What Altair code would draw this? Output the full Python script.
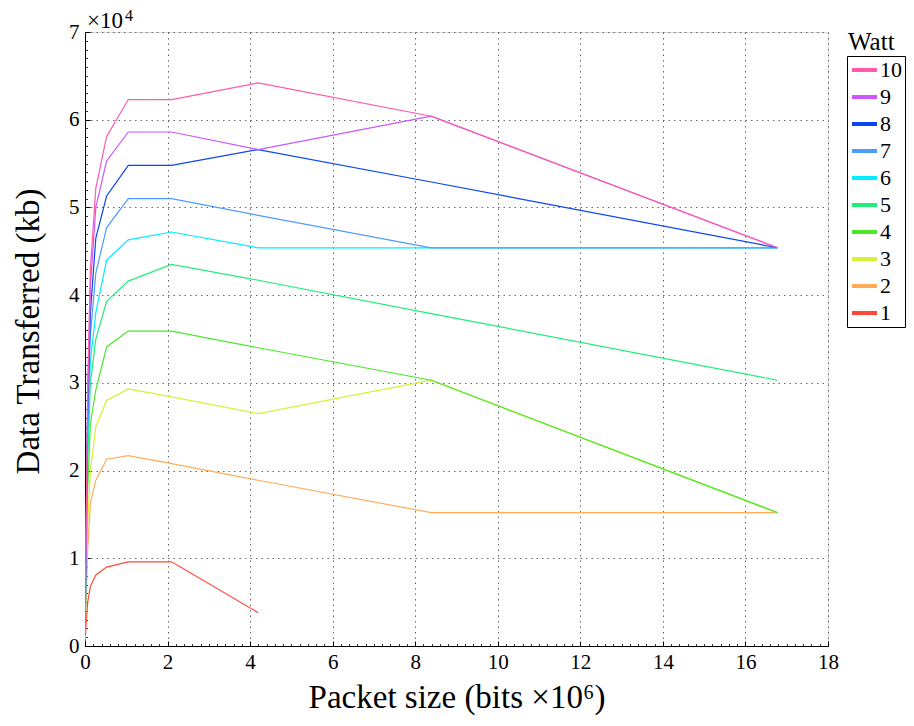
import altair as alt
import pandas as pd

# Packet size in bits x 1e6
packet_size = [0.0041, 0.0164, 0.0655, 0.131, 0.262, 0.524, 1.049, 2.097, 4.194, 8.389, 16.777]

# Data transferred (kb) for each Watt level
watt_1 = [500, 1800, 5000, 6800, 8100, 9000, 9600, 9600, 3800, None, None]
watt_2 = [800, 4000, 11000, 16300, 18900, 21300, 21700, 20800, 18900, 15200, 15200]
watt_3 = [900, 5000, 14000, 20000, 25000, 28000, 29300, 28400, 26500, 30300, 15200]
watt_4 = [1000, 6000, 18000, 25400, 29200, 34100, 35900, 35900, 34000, 30300, 15200]
watt_5 = [1100, 7000, 21000, 30000, 35000, 39300, 41600, 43500, 41700, 37900, 30300]
watt_6 = [1200, 7500, 24000, 32500, 38000, 44000, 46300, 47200, 45400, 45400, 45400]
watt_7 = [1300, 8000, 26000, 35500, 42500, 47700, 51000, 51000, 49100, 45400, 45400]
watt_8 = [1300, 8200, 27000, 38000, 46500, 51300, 54800, 54800, 56600, 52900, 45400]
watt_9 = [1400, 8500, 28000, 41000, 50000, 55300, 58600, 58600, 56600, 60400, 45400]
watt_10 = [1500, 9000, 30000, 43000, 52200, 58100, 62300, 62300, 64200, 60400, 45400]

series = [watt_1, watt_2, watt_3, watt_4, watt_5, watt_6, watt_7, watt_8, watt_9, watt_10]
watt_labels = ["1", "2", "3", "4", "5", "6", "7", "8", "9", "10"]
watt_colors = ["#ff4a3a", "#ffab5a", "#d9f035", "#4aea2a", "#22ee77",
               "#00eeff", "#4d9cff", "#0a46f0", "#cc55ff", "#ff5aab"]

x_ticks = [0, 2, 4, 6, 8, 10, 12, 14, 16, 18]
y_ticks = [0, 10000, 20000, 30000, 40000, 50000, 60000, 70000]
x_minor = [round(i * 0.2, 1) for i in range(0, 91)]
y_minor = [i * 1000 for i in range(0, 71)]

rows = []
for lab, vals in zip(watt_labels, series):
    for i, (xv, yv) in enumerate(zip(packet_size, vals)):
        if yv is not None:
            rows.append({"size": xv, "kb": yv, "watt": lab, "idx": i})
df = pd.DataFrame(rows)

FONT = "Liberation Serif, DejaVu Serif, serif"
W, H = 743, 614

xscale = alt.Scale(domain=[0, 18], nice=False, zero=False)
yscale = alt.Scale(domain=[0, 70000], nice=False, zero=False)

legend_domain = list(reversed(watt_labels))
legend_range = list(reversed(watt_colors))

lines = alt.Chart(df).mark_line(strokeWidth=1.2, clip=True).encode(
    x=alt.X("size:Q", scale=xscale, axis=alt.Axis(
        orient="bottom",
        title="Packet size (bits ×10⁶)", values=x_ticks, grid=True,
        gridDash=[1.5, 4], gridColor="#666666", gridWidth=1,
        ticks=False, domainColor="black", domainWidth=1, labelFlush=False,
        labelFont=FONT, labelFontSize=21, labelColor="black", labelPadding=5,
        titleFont=FONT, titleFontSize=33, titleFontWeight="normal", titleColor="black",
        titlePadding=9)),
    y=alt.Y("kb:Q", scale=yscale, axis=alt.Axis(
        orient="left",
        title="Data Transferred (kb)", values=y_ticks, grid=True,
        labelExpr="datum.value / 10000", labelFlush=False,
        gridDash=[1.5, 4], gridColor="#666666", gridWidth=1,
        ticks=False, domainColor="black", domainWidth=1,
        labelFont=FONT, labelFontSize=21, labelColor="black", labelPadding=6,
        titleFont=FONT, titleFontSize=33, titleFontWeight="normal", titleColor="black",
        titlePadding=23, titleY=299)),
    color=alt.Color("watt:N", scale=alt.Scale(domain=legend_domain, range=legend_range),
                    legend=alt.Legend(title=None, orient="none", legendX=762, legendY=24,
                                      symbolType="stroke", symbolStrokeWidth=4, symbolSize=625,
                                      clipHeight=22, rowPadding=5, padding=3,
                                      labelFont=FONT, labelFontSize=22, labelColor="black",
                                      strokeColor="black",
                                      labelOffset=1, fillColor="white")),
    order="idx:Q",
)

major_ticks = alt.Chart(df).mark_point(opacity=0).encode(
    x=alt.X("size:Q", scale=xscale, axis=alt.Axis(
        orient="bottom",
        title=None, values=x_ticks, labels=False, grid=False, domain=False,
        ticks=True, tickSize=5, tickColor="black", offset=-5)),
    y=alt.Y("kb:Q", scale=yscale, axis=alt.Axis(
        orient="left",
        title=None, values=y_ticks, labels=False, grid=False, domain=False,
        ticks=True, tickSize=5, tickColor="black", offset=-5)),
)

minor_ticks = alt.Chart(df).mark_point(opacity=0).encode(
    x=alt.X("size:Q", scale=xscale, axis=alt.Axis(
        orient="bottom",
        title=None, values=x_minor, labels=False, grid=False, domain=False,
        ticks=True, tickSize=2.5, tickColor="#333333", offset=-2.5)),
    y=alt.Y("kb:Q", scale=yscale, axis=alt.Axis(
        orient="left",
        title=None, values=y_minor, labels=False, grid=False, domain=False,
        ticks=True, tickSize=2.5, tickColor="#333333", offset=-2.5)),
)

legend_title = alt.Chart(pd.DataFrame({"t": ["Watt"]})).mark_text(
    font=FONT, fontSize=25, align="left", baseline="alphabetic", color="black"
).encode(text="t:N", x=alt.value(763), y=alt.value(18))

exponent_base = alt.Chart(pd.DataFrame({"t": ["×10"]})).mark_text(
    font=FONT, fontSize=23, align="left", baseline="alphabetic", color="black"
).encode(text="t:N", x=alt.value(2), y=alt.value(-4))

exponent_power = alt.Chart(pd.DataFrame({"t": ["4"]})).mark_text(
    font=FONT, fontSize=16, align="left", baseline="alphabetic", color="black"
).encode(text="t:N", x=alt.value(40), y=alt.value(-11))

chart = alt.layer(minor_ticks, major_ticks, lines, legend_title,
                  exponent_base, exponent_power).resolve_axis(
    x="independent", y="independent"
).properties(
    width=W, height=H,
    autosize=alt.AutoSizeParams(type="none"),
    padding={"left": 77, "top": 24, "right": 78, "bottom": 72},
).configure_view(stroke=None).configure(background="white")

chart.save("out.html", embed_options={"renderer": "svg", "actions": False})
